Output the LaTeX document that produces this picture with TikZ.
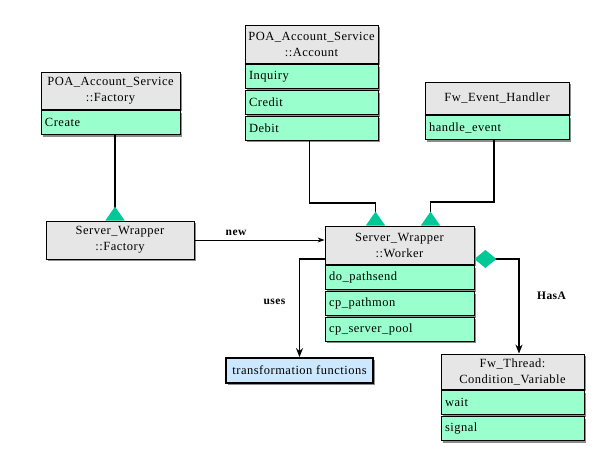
\documentclass[tikz,border=0pt]{standalone}
\usepackage{fontspec}
\setmainfont[LetterSpace=4]{Liberation Serif}
\usetikzlibrary{positioning,arrows.meta,shadows}
\definecolor{headgray}{HTML}{E6E6E6}
\definecolor{rowgreen}{HTML}{99FFCC}
\definecolor{tealgreen}{HTML}{00C896}
\definecolor{utilblue}{HTML}{CCE8FF}
\tikzset{
  boxshadow/.style={
    drop shadow={shadow xshift=2pt,shadow yshift=-2pt,fill=black!45,opacity=1}
  },
  classhead/.style={
    draw,
    line width=0.8pt,
    fill=headgray,
    align=center,
    inner sep=2pt,
    boxshadow,
    font=\fontsize{12.5}{16}\selectfont
  },
  classrow/.style={
    draw,
    line width=0.8pt,
    fill=rowgreen,
    text width=#1,
    align=left,
    inner xsep=4pt,
    inner ysep=0pt,
    minimum height=24pt,
    boxshadow,
    font=\fontsize{12.5}{15}\selectfont
  },
  utilbox/.style={
    draw,
    line width=1.8pt,
    fill=utilblue,
    inner sep=2pt,
    boxshadow,
    font=\fontsize{12.5}{15}\selectfont
  },
  inh/.style={
    line width=1.6pt,
    -{Triangle[reversed,length=14pt,width=19pt,color=tealgreen]}
  },
  rel/.style={
    line width=1.6pt
  },
  reltext/.style={
    font=\bfseries\fontsize{11.5}{13}\selectfont
  }
}
\begin{document}
\begin{tikzpicture}[x=1pt,y=-1pt]
\useasboundingbox (0,0) rectangle (598,448);
% base classes
\node[classhead, minimum width=139pt, minimum height=37pt] (fafh) at (110.5,90.5)
  {POA\_Account\_Service\\::Factory};
\node[classrow=131pt, below=1pt of fafh] (cre) {Create};

\node[classhead, minimum width=133pt, minimum height=38pt] (acch) at (311.5,44)
  {POA\_Account\_Service\\::Account};
\node[classrow=125pt, below=1pt of acch] (inq) {Inquiry};
\node[classrow=125pt, below=1pt of inq] (crd) {Credit};
\node[classrow=125pt, below=1pt of crd] (deb) {Debit};

\node[classhead, minimum width=144pt, minimum height=32pt] (evth) at (497,98)
  {Fw\_Event\_Handler};
\node[classrow=136pt, below=1pt of evth] (hev) {handle\_event};

% wrappers
\node[classhead, minimum width=148pt, minimum height=38pt] (swf) at (120,240)
  {Server\_Wrapper\\::Factory};

\node[classhead, minimum width=149pt, minimum height=38pt] (wkr) at (399.5,245)
  {Server\_Wrapper\\::Worker};
\node[classrow=141pt, below=1pt of wkr] (dps) {do\_pathsend};
\node[classrow=141pt, below=1pt of dps] (cpm) {cp\_pathmon};
\node[classrow=141pt, below=1pt of cpm] (csp) {cp\_server\_pool};

% used parts
\node[utilbox, minimum width=147pt, minimum height=25pt] (trf) at (299.5,370.5)
  {transformation functions};

\node[classhead, minimum width=143pt, minimum height=35pt] (thrh) at (512.5,371.5)
  {Fw\_Thread:\\Condition\_Variable};
\node[classrow=135pt, below=1pt of thrh] (wai) {wait};
\node[classrow=135pt, below=1pt of wai] (sig) {signal};

% inheritance
\draw[inh] ([xshift=4.5pt]cre.south) -- ([xshift=4.5pt]cre.south |- swf.north);
\draw[inh] ([xshift=-2pt]deb.south) -- ++(0,62) -| ([xshift=-24pt]wkr.north);
\draw[inh] ([xshift=-3pt]hev.south) -- ++(0,62) -| ([xshift=31pt]wkr.north);

% relations
\draw[line width=0.8pt, -{Stealth[length=7pt,width=5pt]}] (swf.east) -- (swf.east -| wkr.west)
  node[reltext, pos=0.32, above=1pt] {new};
\draw[rel, -{Stealth[length=9pt,width=7pt]}] ([yshift=-14pt]wkr.west) -| (trf.north)
  node[reltext, pos=0.72, left=10pt] {uses};
\draw[rel, {Diamond[length=22pt,width=18pt,color=tealgreen]}-{Stealth[length=9pt,width=7pt]}]
  ([yshift=-14pt]wkr.east) -| ([xshift=6.5pt]thrh.north)
  node[reltext, pos=0.695, right=14pt] {HasA};
\end{tikzpicture}
\end{document}
